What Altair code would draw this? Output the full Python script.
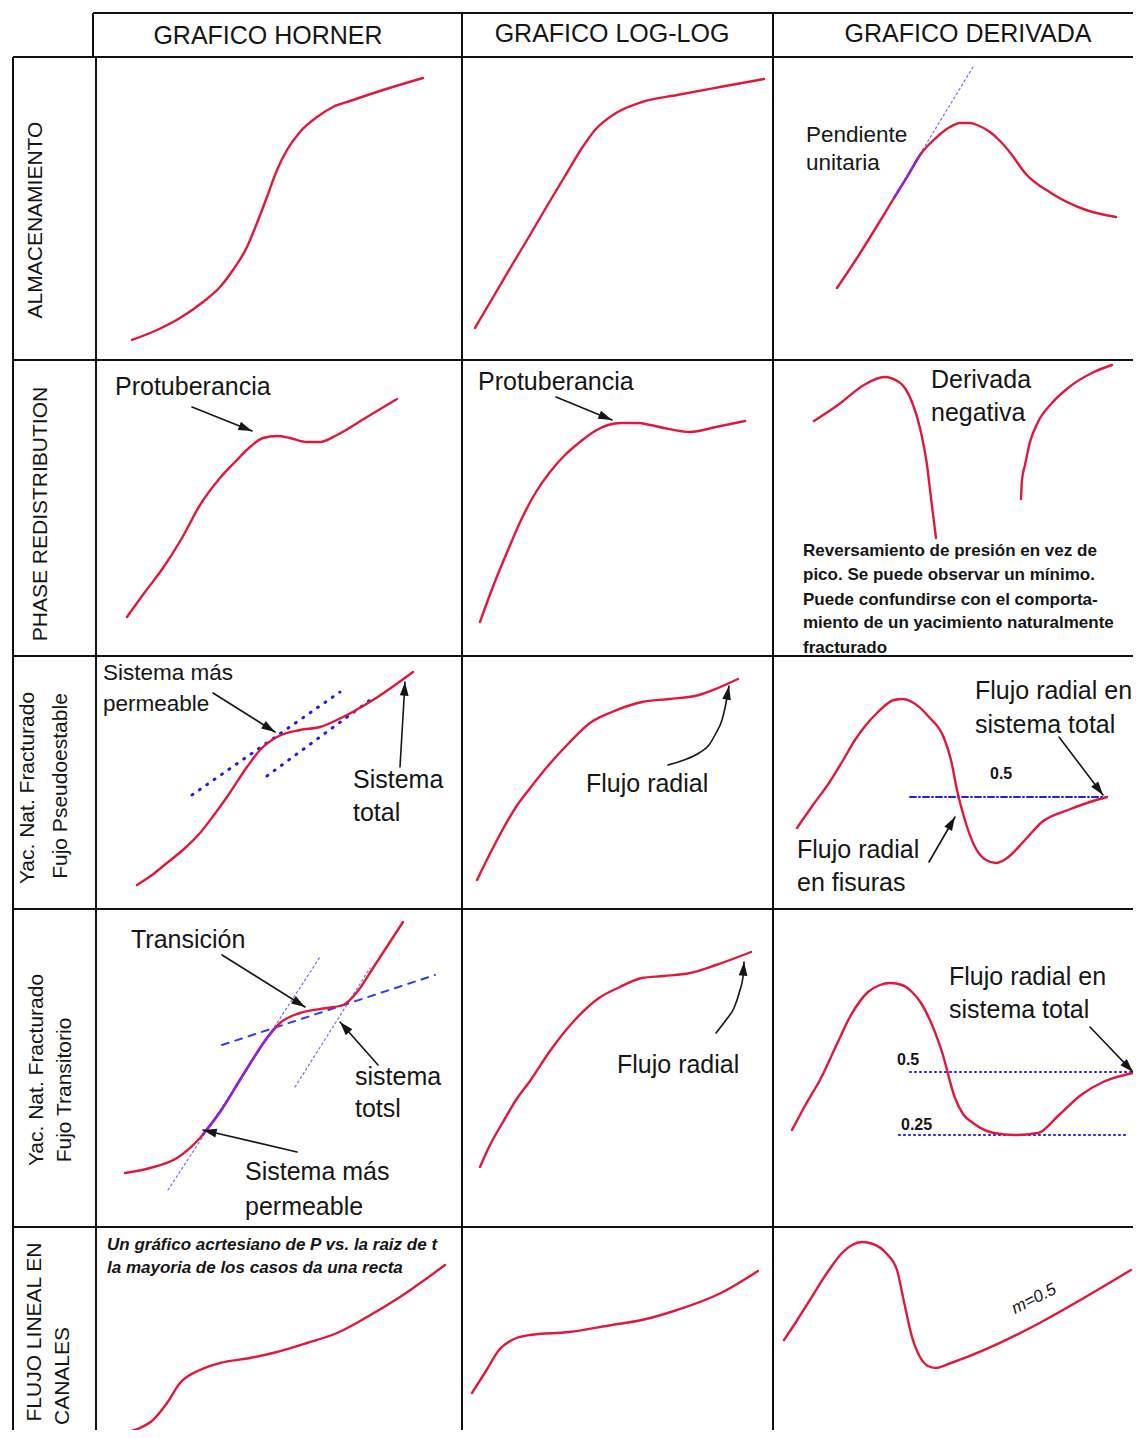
import altair as alt
import pandas as pd
import numpy as np

FONT = "Liberation Sans"

# ---------------- table grid (reference pixel coordinates) ----------------
GRID_X1 = [93, 13, 13, 13, 13, 13, 93, 13, 96, 462, 773, 1138]
GRID_Y1 = [13, 57, 360, 656, 909, 1227, 13, 57, 57, 13, 13, 13]
GRID_X2 = [1141, 1141, 1141, 1141, 1141, 1141, 93, 13, 96, 462, 773, 1138]
GRID_Y2 = [13, 57, 360, 656, 909, 1227, 57, 1438, 1438, 1438, 1438, 1438]

# ---------------- headers / row labels ----------------
HEADER_TEXT = ["GRAFICO HORNER", "GRAFICO LOG-LOG", "GRAFICO DERIVADA"]
HEADER_X = [268, 612, 968]
HEADER_Y = [36, 34, 34]

ROW_LABEL_TEXT = ["ALMACENAMIENTO", "PHASE REDISTRIBUTION",
                  "Yac. Nat. Fracturado", "Fujo Pseudoestable",
                  "Yac. Nat. Fracturado", "Fujo Transitorio",
                  "FLUJO LINEAL  EN", "CANALES"]
ROW_LABEL_X = [36, 41, 28, 61, 37, 65, 35, 63]
ROW_LABEL_Y = [220, 514, 788, 786, 1070, 1090, 1332, 1376]

# ---------------- curves: row 1 (almacenamiento) ----------------
ALM_HOR_X = [132, 157, 180, 203, 220, 233, 247, 257, 267, 277, 287, 300, 317, 333, 350, 383, 423]
ALM_HOR_Y = [340, 330, 318, 302, 287, 270, 247, 223, 197, 170, 150, 132, 117, 107, 101, 90, 78]
ALM_LOG_X = [475, 495, 512, 530, 547, 565, 582, 595, 616, 642, 677, 720, 764]
ALM_LOG_Y = [328, 294, 265, 235, 206, 176, 148, 130, 113, 102, 95, 87, 79]
ALM_DER_X = [837, 857, 877, 894, 907, 920, 938, 950, 960, 970, 977, 990, 999, 1012, 1025, 1051, 1086, 1116]
ALM_DER_Y = [288, 258, 226, 198, 177, 155, 136, 127, 123, 123, 125, 132, 140, 155, 173, 193, 210, 217]
ALM_TAN_X = [894, 973]
ALM_TAN_Y = [197, 67]
ALM_PURPLE_X = [894, 907, 920]
ALM_PURPLE_Y = [198, 177, 155]

# ---------------- row 2 (phase redistribution) ----------------
PHR_HOR_X = [127, 145, 163, 182, 200, 220, 235, 250, 263, 277, 290, 307, 320, 337, 367, 397]
PHR_HOR_Y = [617, 592, 568, 538, 505, 478, 462, 447, 438, 436, 438, 442, 442, 435, 417, 399]
PHR_LOG_X = [480, 494, 508, 522, 536, 550, 564, 580, 595, 608, 621, 638, 650, 664, 690, 716, 745]
PHR_LOG_Y = [622, 584, 550, 518, 492, 472, 456, 442, 431, 425, 423, 423, 425, 428, 432, 427, 421]
PHR_DER_A_X = [814, 838, 864, 884, 899, 912, 920, 927, 931, 936]
PHR_DER_A_Y = [421, 405, 385, 377, 382, 402, 428, 465, 498, 538]
PHR_DER_B_X = [1021, 1022, 1025, 1030, 1038, 1052, 1068, 1094, 1112]
PHR_DER_B_Y = [499, 480, 465, 442, 422, 403, 388, 372, 365]

# ---------------- row 3 (pseudoestable) ----------------
PSE_HOR_X = [137, 152, 167, 184, 200, 214, 227, 247, 260, 277, 300, 320, 343, 373, 413]
PSE_HOR_Y = [885, 875, 863, 849, 833, 815, 797, 767, 750, 737, 730, 727, 717, 700, 672]
PSE_DOT1_X = [192, 340]
PSE_DOT1_Y = [795, 692]
PSE_DOT2_X = [267, 373]
PSE_DOT2_Y = [776, 698]
PSE_LOG_X = [477, 496, 516, 531, 547, 568, 590, 612, 642, 669, 699, 718, 738]
PSE_LOG_Y = [880, 842, 807, 787, 767, 744, 723, 712, 702, 699, 695, 688, 679]
PSE_DER_X = [797, 813, 829, 842, 855, 866, 877, 894, 903, 912, 929, 944, 951, 957, 964, 975, 986, 996, 1007, 1025, 1042, 1068, 1090, 1107]
PSE_DER_Y = [828, 805, 783, 762, 740, 725, 713, 700, 699, 702, 717, 738, 760, 790, 817, 847, 860, 863, 858, 840, 822, 810, 802, 797]
PSE_HALF_X = [910, 1103]
PSE_HALF_Y = [797, 797]

# ---------------- row 4 (transitorio) ----------------
TRA_HOR_X = [125, 150, 177, 200, 220, 243, 267, 280, 300, 327, 343, 357, 373, 403]
TRA_HOR_Y = [1173, 1168, 1158, 1138, 1112, 1075, 1038, 1023, 1013, 1008, 1005, 992, 968, 922]
TRA_PURPLE_X = [203, 220, 243, 267, 274]
TRA_PURPLE_Y = [1134, 1112, 1075, 1038, 1029]
TRA_THIN1_X = [168, 320]
TRA_THIN1_Y = [1190, 957]
TRA_THIN2_X = [295, 370]
TRA_THIN2_Y = [1087, 968]
TRA_DASH_X = [222, 435]
TRA_DASH_Y = [1045, 975]
TRA_LOG_X = [480, 490, 503, 516, 530, 550, 573, 599, 620, 642, 664, 690, 716, 751]
TRA_LOG_Y = [1167, 1145, 1122, 1100, 1081, 1051, 1022, 998, 987, 978, 976, 973, 965, 952]
TRA_DER_X = [792, 806, 821, 836, 851, 868, 880, 890, 902, 912, 921, 929, 942, 955, 963, 973, 994, 1015, 1038, 1059, 1081, 1103, 1133]
TRA_DER_Y = [1130, 1104, 1078, 1046, 1015, 992, 985, 983, 985, 992, 1003, 1018, 1052, 1098, 1114, 1123, 1133, 1135, 1133, 1115, 1095, 1082, 1073]
TRA_HALF_X = [910, 1135]
TRA_HALF_Y = [1072, 1072]
TRA_QUART_X = [899, 1125]
TRA_QUART_Y = [1135, 1135]

# ---------------- row 5 (flujo lineal) ----------------
LIN_HOR_X = [122, 140, 153, 167, 180, 200, 220, 250, 273, 307, 337, 367, 400, 445]
LIN_HOR_Y = [1433, 1428, 1420, 1403, 1383, 1370, 1363, 1358, 1353, 1343, 1333, 1317, 1297, 1265]
LIN_LOG_X = [472, 486, 499, 512, 530, 569, 612, 642, 677, 721, 758]
LIN_LOG_Y = [1393, 1371, 1350, 1340, 1335, 1332, 1325, 1320, 1310, 1293, 1271]
LIN_DER_X = [784, 796, 808, 829, 842, 852, 862, 873, 886, 897, 903, 912, 920, 928, 936, 951, 1131]
LIN_DER_Y = [1340, 1322, 1303, 1270, 1253, 1245, 1242, 1244, 1253, 1270, 1297, 1337, 1357, 1366, 1368, 1363, 1270]

# ---------------- arrows ----------------
ARROW_SX = [192, 556, 213, 400, 1059, 929, 222, 378, 297, 1090]
ARROW_SY = [407, 397, 693, 767, 737, 862, 955, 1065, 1152, 1027]
ARROW_EX = [252, 612, 275, 405, 1103, 955, 305, 340, 203, 1133]
ARROW_EY = [431, 420, 732, 682, 795, 817, 1007, 1022, 1130, 1072]
CURVED_ARROW1_X = [668, 684, 699, 709, 716, 722, 725, 729]
CURVED_ARROW1_Y = [765, 760, 753, 745, 733, 720, 708, 686]
CURVED_ARROW2_X = [716, 726, 734, 740, 743, 744]
CURVED_ARROW2_Y = [1033, 1020, 1008, 990, 977, 962]

# ---------------- annotation texts ----------------
BIG_TEXT = ["Protuberancia", "Protuberancia", "Derivada", "negativa",
            "Sistema", "total", "Flujo radial", "Flujo radial en", "sistema total",
            "Flujo radial", "en fisuras", "Transición", "sistema", "totsl",
            "Sistema más", "permeable", "Flujo radial", "Flujo radial en", "sistema total"]
BIG_X = [115, 478, 931, 931, 353, 353, 586, 975, 975, 797, 797, 131, 355, 355, 245, 245, 617, 949, 949]
BIG_Y = [387, 382, 380, 413, 780, 813, 784, 691, 725, 850, 883, 940, 1077, 1109, 1172, 1207, 1065, 977, 1010]

MID_TEXT = ["Pendiente", "unitaria", "Sistema más", "permeable"]
MID_X = [806, 806, 103, 103]
MID_Y = [135, 163, 673, 704]

NOTE_TEXT = ["Reversamiento de presión en vez de", "pico. Se puede observar un  mínimo.",
             "Puede confundirse con el comporta-", "miento de un yacimiento naturalmente",
             "fracturado"]
NOTE_X = [803, 803, 803, 803, 803]
NOTE_Y = [551, 575, 600, 623, 648]

ITAL_TEXT = ["Un gráfico acrtesiano de P vs. la raiz de t", "la mayoria de los casos da una recta"]
ITAL_X = [107, 107]
ITAL_Y = [1245, 1268]

VAL_TEXT = ["0.5", "0.5", "0.25"]
VAL_X = [990, 897, 901]
VAL_Y = [774, 1060, 1125]

SLOPE_TEXT = ["m=0.5"]
SLOPE_X = [1034]
SLOPE_Y = [1299]

# ---------------- scales ----------------
XS = alt.Scale(domain=[8, 1133], nice=False, zero=False)
YS = alt.Scale(domain=[8, 1430], nice=False, zero=False, reverse=True)
X = alt.X("x:Q", scale=XS, axis=None)
Y = alt.Y("y:Q", scale=YS, axis=None)


def line_layer(curves, color, width, dash=None, interp="monotone"):
    rows = []
    for k, (cx, cy) in enumerate(curves):
        for i, (a, b) in enumerate(zip(cx, cy)):
            rows.append({"id": k, "i": i, "x": a, "y": b})
    kw = dict(color=color, strokeWidth=width, interpolate=interp,
              strokeCap="round", strokeJoin="round")
    if dash:
        kw["strokeDash"] = dash
    return alt.Chart(pd.DataFrame(rows)).mark_line(**kw).encode(
        x=X, y=Y, detail="id:N", order="i:Q")


def text_layer(texts, tx, ty, size, weight="normal", style="normal", angle=0,
               align="left", color="#161616"):
    df = pd.DataFrame({"x": tx, "y": ty, "t": texts})
    return alt.Chart(df).mark_text(
        fontSize=size, fontWeight=weight, fontStyle=style, angle=angle,
        align=align, baseline="middle", font=FONT, color=color
    ).encode(x=X, y=Y, text="t:N")


grid_df = pd.DataFrame({"x": GRID_X1, "y": GRID_Y1, "x2": GRID_X2, "y2": GRID_Y2})
grid = alt.Chart(grid_df).mark_rule(color="#111111", strokeWidth=2).encode(
    x=X, y=Y, x2="x2:Q", y2="y2:Q")

RED = "#e3173d"
red_curves = line_layer([
    (ALM_HOR_X, ALM_HOR_Y), (ALM_LOG_X, ALM_LOG_Y), (ALM_DER_X, ALM_DER_Y),
    (PHR_HOR_X, PHR_HOR_Y), (PHR_LOG_X, PHR_LOG_Y), (PHR_DER_A_X, PHR_DER_A_Y), (PHR_DER_B_X, PHR_DER_B_Y),
    (PSE_HOR_X, PSE_HOR_Y), (PSE_LOG_X, PSE_LOG_Y), (PSE_DER_X, PSE_DER_Y),
    (TRA_HOR_X, TRA_HOR_Y), (TRA_LOG_X, TRA_LOG_Y), (TRA_DER_X, TRA_DER_Y),
    (LIN_HOR_X, LIN_HOR_Y), (LIN_LOG_X, LIN_LOG_Y), (LIN_DER_X, LIN_DER_Y),
], RED, 2.4)

purple = line_layer([(ALM_PURPLE_X, ALM_PURPLE_Y), (TRA_PURPLE_X, TRA_PURPLE_Y)], "#8a22e8", 2.4)
thin_dotted = line_layer([(ALM_TAN_X, ALM_TAN_Y), (TRA_THIN1_X, TRA_THIN1_Y), (TRA_THIN2_X, TRA_THIN2_Y)],
                         "#7070ff", 1.2, dash=[2, 3], interp="linear")
thick_dotted = line_layer([(PSE_DOT1_X, PSE_DOT1_Y), (PSE_DOT2_X, PSE_DOT2_Y)],
                          "#1e1eef", 3, dash=[1, 8], interp="linear")
dashed = line_layer([(TRA_DASH_X, TRA_DASH_Y)], "#3040ee", 2, dash=[7, 7], interp="linear")
dashdot = line_layer([(PSE_HALF_X, PSE_HALF_Y)], "#2020e8", 2, dash=[6, 3, 1, 3], interp="linear")
dotted_h = line_layer([(TRA_HALF_X, TRA_HALF_Y), (TRA_QUART_X, TRA_QUART_Y)],
                      "#2828ee", 2.2, dash=[1, 4], interp="linear")

shafts = line_layer([([sx, ex], [sy, ey]) for sx, sy, ex, ey in zip(ARROW_SX, ARROW_SY, ARROW_EX, ARROW_EY)],
                    "#161616", 1.6, interp="linear")
curved = line_layer([(CURVED_ARROW1_X, CURVED_ARROW1_Y), (CURVED_ARROW2_X, CURVED_ARROW2_Y)],
                    "#161616", 1.6)

tip_x = ARROW_EX + [CURVED_ARROW1_X[-1], CURVED_ARROW2_X[-1]]
tip_y = ARROW_EY + [CURVED_ARROW1_Y[-1], CURVED_ARROW2_Y[-1]]
from_x = ARROW_SX + [CURVED_ARROW1_X[-2], CURVED_ARROW2_X[-2]]
from_y = ARROW_SY + [CURVED_ARROW1_Y[-2], CURVED_ARROW2_Y[-2]]
ang = [float(np.degrees(np.arctan2(tx - fx, -(ty - fy))) % 360)
       for tx, ty, fx, fy in zip(tip_x, tip_y, from_x, from_y)]
heads_df = pd.DataFrame({"x": tip_x, "y": tip_y, "ang": ang})
heads = alt.Chart(heads_df).mark_point(
    shape="M0,0L-0.45,1.4L0.45,1.4Z", filled=True, color="#161616", size=380, opacity=1, strokeWidth=0
).encode(x=X, y=Y, angle=alt.Angle("ang:Q", scale=None))

headers = text_layer(HEADER_TEXT, HEADER_X, HEADER_Y, 25, align="center")
row_labels = text_layer(ROW_LABEL_TEXT, ROW_LABEL_X, ROW_LABEL_Y, 21, angle=270, align="center")
big = text_layer(BIG_TEXT, BIG_X, BIG_Y, 25)
mid = text_layer(MID_TEXT, MID_X, MID_Y, 22.5)
note = text_layer(NOTE_TEXT, NOTE_X, NOTE_Y, 17, weight="bold")
ital = text_layer(ITAL_TEXT, ITAL_X, ITAL_Y, 17, weight="bold", style="italic")
vals = text_layer(VAL_TEXT, VAL_X, VAL_Y, 16, weight="bold")
slope = text_layer(SLOPE_TEXT, SLOPE_X, SLOPE_Y, 17, style="italic", angle=333, align="center")

chart = alt.layer(
    grid, thin_dotted, thick_dotted, dashed, dashdot, dotted_h,
    red_curves, purple, shafts, curved, heads,
    headers, row_labels, big, mid, note, ital, vals, slope
).properties(
    width=1125, height=1422, padding=0, background="white",
    autosize=alt.AutoSizeParams(type="none")
).configure_view(stroke=None)

chart.save("out.html", embed_options={"renderer": "svg", "actions": False})
